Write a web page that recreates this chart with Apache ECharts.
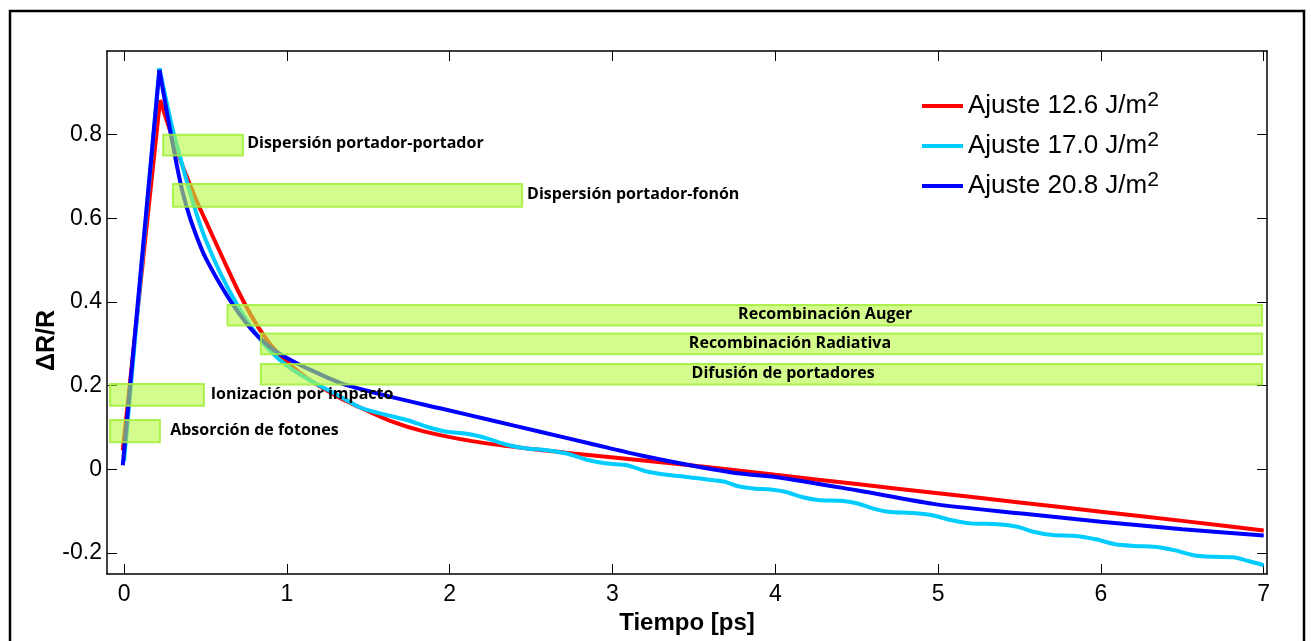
<!DOCTYPE html>
<html>
<head>
<meta charset="utf-8">
<title>ΔR/R ajustes</title>
<script src="https://cdn.jsdelivr.net/npm/echarts@6/dist/echarts.min.js"></script>
<style>
  html, body { margin: 0; padding: 0; background: #fff; }
  #chart { width: 1311px; height: 641px; }
</style>
</head>
<body>
<div id="chart"></div>
<script>
// tick labels
const xTicks = [0, 1, 2, 3, 4, 5, 6, 7];
const yTicks = [-0.2, 0, 0.2, 0.4, 0.6, 0.8];

// Ajuste 12.6 J/m2 (red)
const redX = [-0.008, 0.221, 0.26, 0.3, 0.35, 0.4, 0.45, 0.5, 0.6, 0.7, 0.8, 0.9, 1.0, 1.14, 1.33, 1.45, 1.634, 1.84, 2.146, 2.453, 2.76, 3.067, 3.374, 3.784, 4.0, 4.5, 5.0, 5.5, 6.0, 6.5, 7.0];
const redY = [0.046, 0.883, 0.836, 0.79, 0.735, 0.685, 0.638, 0.595, 0.51, 0.427, 0.355, 0.298, 0.257, 0.214, 0.170, 0.148, 0.116, 0.091, 0.067, 0.051, 0.038, 0.026, 0.014, -0.003, -0.013, -0.035, -0.057, -0.079, -0.101, -0.123, -0.146];

// Ajuste 17.0 J/m2 (cyan)
const cyanX = [0.0, 0.217, 0.26, 0.3, 0.35, 0.4, 0.45, 0.5, 0.6, 0.7, 0.8, 0.9, 1.0, 1.12, 1.327, 1.45, 1.572, 1.736, 1.859, 1.982, 2.105, 2.228, 2.351, 2.474, 2.596, 2.719, 2.842, 2.965, 3.088, 3.211, 3.334, 3.457, 3.579, 3.682, 3.779, 3.875, 3.971, 4.067, 4.163, 4.26, 4.404, 4.50, 4.597, 4.693, 4.837, 4.958, 5.078, 5.198, 5.367, 5.487, 5.584, 5.703, 5.848, 5.968, 6.088, 6.209, 6.329, 6.449, 6.568, 6.689, 6.81, 6.906, 7.0];
const cyanY = [0.02, 0.959, 0.88, 0.81, 0.738, 0.668, 0.605, 0.55, 0.462, 0.39, 0.33, 0.282, 0.248, 0.218, 0.174, 0.148, 0.134, 0.118, 0.102, 0.090, 0.085, 0.074, 0.059, 0.050, 0.046, 0.038, 0.023, 0.014, 0.010, -0.005, -0.013, -0.018, -0.024, -0.029, -0.041, -0.046, -0.048, -0.054, -0.066, -0.073, -0.075, -0.081, -0.093, -0.101, -0.104, -0.109, -0.121, -0.129, -0.131, -0.137, -0.149, -0.157, -0.159, -0.167, -0.179, -0.183, -0.185, -0.193, -0.205, -0.209, -0.210, -0.219, -0.229];

// Ajuste 20.8 J/m2 (blue)
const blueX = [-0.008, 0.217, 0.26, 0.3, 0.35, 0.4, 0.45, 0.5, 0.6, 0.7, 0.8, 0.9, 1.0, 1.1, 1.327, 1.634, 1.941, 2.248, 2.555, 2.862, 3.17, 3.477, 3.784, 4.0, 4.5, 4.98, 5.5, 6.0, 6.5, 7.0];
const blueY = [0.01, 0.955, 0.86, 0.775, 0.678, 0.607, 0.552, 0.506, 0.436, 0.376, 0.327, 0.291, 0.266, 0.246, 0.207, 0.174, 0.146, 0.118, 0.090, 0.062, 0.034, 0.010, -0.010, -0.018, -0.050, -0.083, -0.105, -0.125, -0.143, -0.158];

// process annotations (time range and ΔR/R band)
const procNames = ['Dispersión portador-portador', 'Dispersión portador-fonón', 'Recombinación Auger', 'Recombinación Radiativa', 'Difusión de portadores', 'Ionización por impacto', 'Absorción de fotones'];
const procStart = [0.24, 0.30, 0.635, 0.84, 0.84, -0.086, -0.086];
const procEnd = [0.73, 2.445, 6.99, 6.99, 6.99, 0.49, 0.22];
const procLow = [0.75, 0.628, 0.344, 0.275, 0.203, 0.152, 0.065];
const procHigh = [0.80, 0.682, 0.393, 0.325, 0.252, 0.204, 0.118];
const procLabelX = [0.756, 2.475, 4.306, 4.09, 4.048, 0.532, 0.283];
const procLabelY = [0.778, 0.658, 0.371, 0.301, 0.229, 0.178, 0.092];
const procLabelAlign = ['left', 'left', 'center', 'center', 'center', 'left', 'left'];

const zip = (xs, ys) => xs.map((x, i) => [x, ys[i]]);

const chart = echarts.init(document.getElementById('chart'));

// rise up to the peak is straight, the decay after it is drawn smooth
const fitSeries = (name, color, xs, ys, z) => {
  const pts = zip(xs, ys);
  const peak = ys.indexOf(Math.max(...ys));
  const base = {
    name: name,
    type: 'line',
    showSymbol: false,
    symbol: 'none',
    z: z,
    lineStyle: { color: color, width: 4 },
    itemStyle: { color: color }
  };
  return [
    Object.assign({}, base, { data: pts.slice(0, peak + 1) }),
    Object.assign({}, base, { data: pts.slice(peak), smooth: 0.3 })
  ];
};

const axisFont = { fontFamily: 'Liberation Sans, Arial, sans-serif', fontSize: 23, color: '#000' };
const legendFont = 'Liberation Sans, Arial, sans-serif';

const option = {
  animation: false,
  backgroundColor: '#fff',
  graphic: [{
    type: 'rect',
    shape: { x: 10, y: 11, width: 1294, height: 660 },
    style: { fill: 'none', stroke: '#000', lineWidth: 2.5 },
    silent: true
  }],
  grid: { left: 107, top: 51, right: 44, bottom: 67 },
  legend: {
    orient: 'vertical',
    left: 922,
    top: 90,
    padding: 0,
    itemWidth: 41,
    itemHeight: 4,
    itemGap: 11,
    icon: 'rect',
    data: ['Ajuste 12.6 J/m²', 'Ajuste 17.0 J/m²', 'Ajuste 20.8 J/m²'],
    formatter: name => '{b|' + name.replace('²', '') + '}{s|2}',
    textStyle: {
      rich: {
        b: { fontFamily: legendFont, fontSize: 26, color: '#000', lineHeight: 32 },
        s: { fontFamily: legendFont, fontSize: 21, color: '#000', lineHeight: 16, verticalAlign: 'top' }
      }
    }
  },
  xAxis: [{
    type: 'value',
    min: -0.105,
    max: 7.02,
    name: 'Tiempo [ps]',
    nameLocation: 'middle',
    nameGap: 37,
    nameMoveOverlap: false,
    nameTextStyle: { fontFamily: 'Liberation Sans, Arial, sans-serif', fontSize: 24, fontWeight: 'bold', color: '#000' },
    axisLine: { onZero: false, lineStyle: { color: '#000', width: 1.5 } },
    axisTick: { inside: true, length: 10, customValues: xTicks, lineStyle: { color: '#000' } },
    axisLabel: Object.assign({ customValues: xTicks, margin: 9 }, axisFont),
    splitLine: { show: false }
  }, {
    type: 'value',
    position: 'top',
    min: -0.105,
    max: 7.02,
    axisLine: { onZero: false, lineStyle: { color: '#000', width: 1.5 } },
    axisTick: { inside: true, length: 10, customValues: xTicks, lineStyle: { color: '#000' } },
    axisLabel: { show: false },
    splitLine: { show: false }
  }],
  yAxis: [{
    type: 'value',
    min: -0.25,
    max: 1.0,
    name: 'ΔR/R',
    nameLocation: 'middle',
    nameGap: 47,
    nameMoveOverlap: false,
    nameTextStyle: { fontFamily: 'Liberation Sans, Arial, sans-serif', fontSize: 25, fontWeight: 'bold', color: '#000', padding: [0, 56, 0, 0] },
    axisLine: { onZero: false, lineStyle: { color: '#000', width: 1.5 } },
    axisTick: { inside: true, length: 10, customValues: yTicks, lineStyle: { color: '#000' } },
    axisLabel: Object.assign({ customValues: yTicks, margin: 5, formatter: v => v === 0 ? '0' : v.toFixed(1) }, axisFont),
    splitLine: { show: false }
  }, {
    type: 'value',
    position: 'right',
    min: -0.25,
    max: 1.0,
    axisLine: { onZero: false, lineStyle: { color: '#000', width: 1.5 } },
    axisTick: { inside: true, length: 10, customValues: yTicks, lineStyle: { color: '#000' } },
    axisLabel: { show: false },
    splitLine: { show: false }
  }],
  series: [
    ...fitSeries('Ajuste 12.6 J/m²', '#ff0000', redX, redY, 2),
    ...fitSeries('Ajuste 17.0 J/m²', '#00ccff', cyanX, cyanY, 3),
    ...fitSeries('Ajuste 20.8 J/m²', '#0000ff', blueX, blueY, 4),
    {
      name: 'procesos',
      type: 'custom',
      z: 10,
      clip: false,
      data: procNames.map((n, i) => [procStart[i], procEnd[i], procLow[i], procHigh[i]]),
      encode: { x: [0, 1], y: [2, 3] },
      renderItem: (params, api) => {
        const i = params.dataIndex;
        const p0 = api.coord([api.value(0), api.value(3)]);
        const p1 = api.coord([api.value(1), api.value(2)]);
        const pl = api.coord([procLabelX[i], procLabelY[i]]);
        return {
          type: 'group',
          children: [{
            type: 'rect',
            shape: { x: p0[0], y: p0[1], width: p1[0] - p0[0], height: p1[1] - p0[1] },
            style: { fill: 'rgba(183,250,63,0.6)', stroke: 'rgba(160,238,55,0.85)', lineWidth: 2 }
          }, {
            type: 'text',
            x: pl[0],
            y: pl[1],
            style: {
              text: procNames[i],
              fill: '#000',
              font: 'bold 16px "Open Sans", "Noto Sans", sans-serif',
              align: procLabelAlign[i],
              verticalAlign: 'middle'
            }
          }]
        };
      }
    }
  ]
};

chart.setOption(option);
</script>
</body>
</html>
